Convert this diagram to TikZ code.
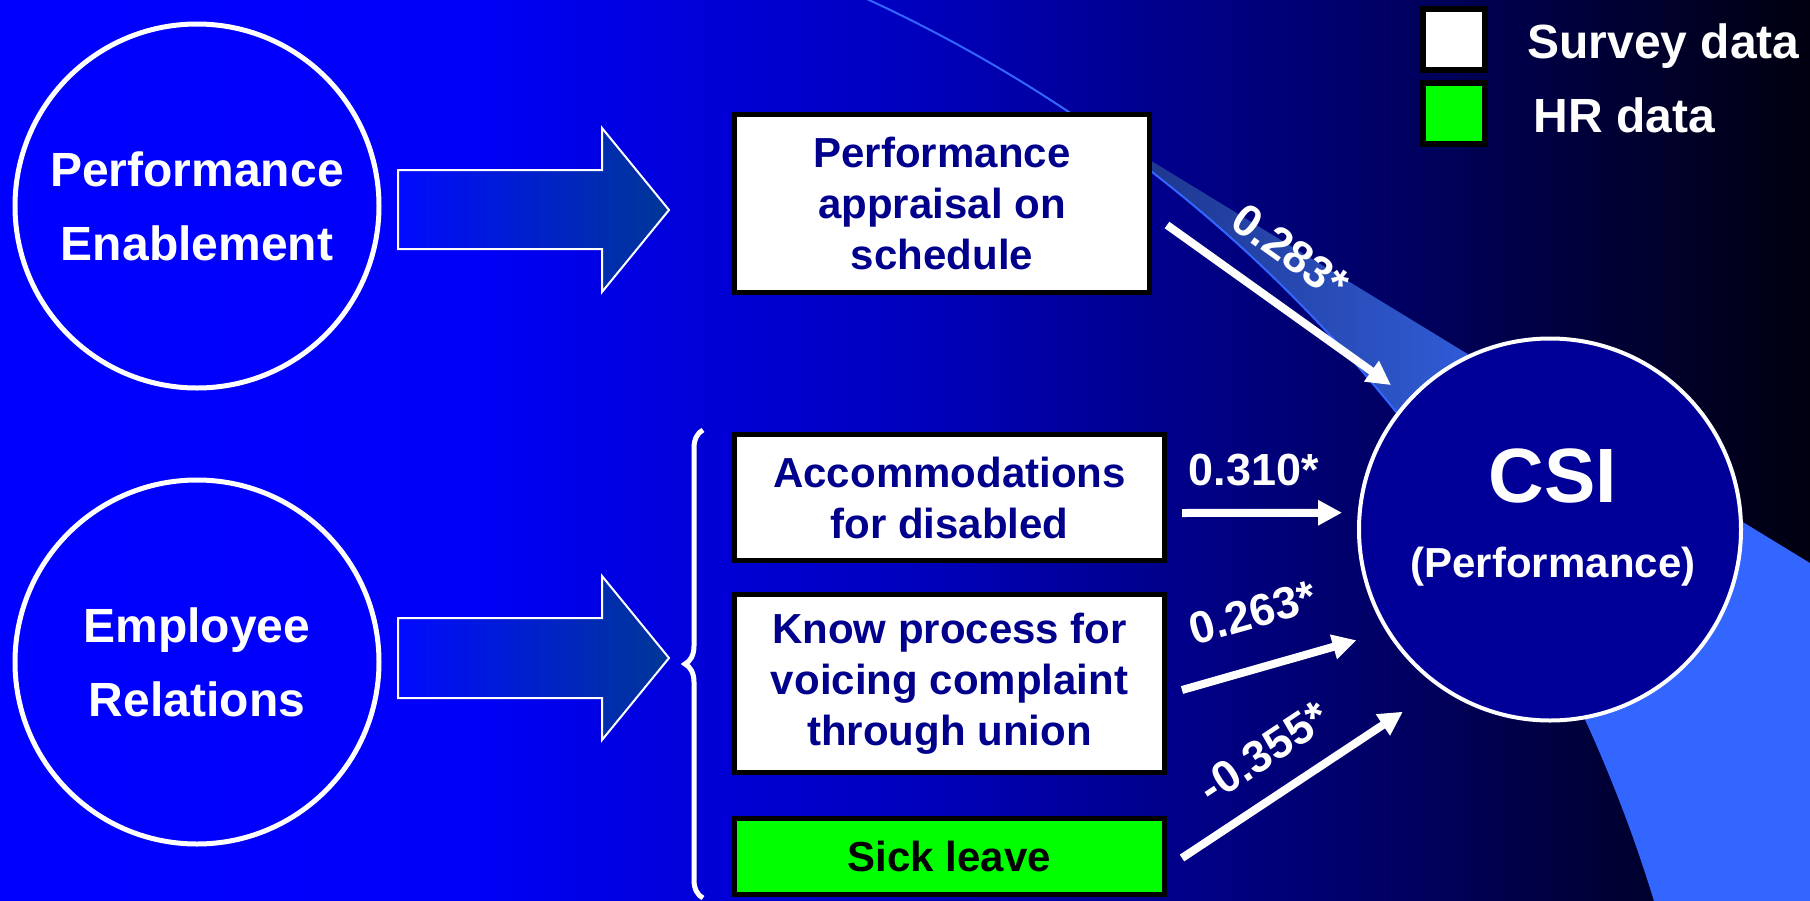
\documentclass[tikz,border=0pt]{standalone}
\usepackage{fontspec}
\setmainfont{Liberation Sans}
\usetikzlibrary{arrows.meta,decorations.pathreplacing}

\definecolor{boxtext}{RGB}{0,0,140}
\definecolor{csifill}{RGB}{0,0,153}
\definecolor{bandblue}{RGB}{51,102,255}
\definecolor{hrgreen}{RGB}{0,255,0}
\definecolor{arrowleft}{RGB}{0,10,255}
\definecolor{arrowright}{RGB}{0,55,150}

\pgfdeclarehorizontalshading{bgshade}{100bp}{rgb(0bp)=(0,0,1); rgb(25bp)=(0,0,1); rgb(37.5bp)=(0,0,0.98); rgb(44.5bp)=(0,0,0.84); rgb(50bp)=(0,0,0.75); rgb(55.5bp)=(0,0,0.59); rgb(63.5bp)=(0,0,0.39); rgb(69bp)=(0,0,0.22); rgb(75bp)=(0,0,0.06); rgb(100bp)=(0,0,0.06)}
\pgfdeclarehorizontalshading{bandshade}{100bp}{rgb(0bp)=(0.08,0.16,0.51); rgb(25bp)=(0.08,0.16,0.51); rgb(32.75bp)=(0.12,0.22,0.57); rgb(48bp)=(0.18,0.34,0.8); rgb(58bp)=(0.2,0.4,1); rgb(100bp)=(0.2,0.4,1)}

\tikzset{
  factor/.style={circle, draw=white, line width=2.5pt, minimum size=182pt, inner sep=0pt,
    align=center, text=white, font=\bfseries\fontsize{24}{37}\selectfont},
  itembox/.style={rectangle, draw=black, line width=2.5pt, fill=white, inner sep=0pt,
    align=center, text=boxtext, font=\bfseries\fontsize{21}{25.5}\selectfont},
  blockarrow/.style={draw=white, line width=1pt, left color=arrowleft, right color=arrowright},
  coef/.style={draw=white, line width=4pt, -{Triangle[length=12pt,width=12pt]}},
  coeflabel/.style={text=white, inner sep=0pt, sloped, font=\bfseries\fontsize{22.5}{27}\selectfont},
  legendbox/.style={rectangle, draw=black, line width=3pt, minimum width=31pt, minimum height=30.5pt, inner sep=0pt},
  legendtext/.style={anchor=base west, inner sep=0pt, text=white, font=\bfseries\fontsize{24}{28}\selectfont}
}

\begin{document}
\begin{tikzpicture}[x=0.5pt,y=-0.5pt]
\useasboundingbox (0,0) rectangle (1810,900);
\clip (0,0) rectangle (1810,900);
% background:
\shade[shading=bgshade] (0,0) rectangle (1810,900);
% swoosh:
\shade[shading=bandshade] (1015.5,78) -- (1900,618) -- (1900,1000) -- (1681.5,1000)
  arc[start angle=-12.99, end angle=-58.7, radius=1464] -- cycle;
\draw[bandblue, line width=1pt] (850.5,-8.4) arc[start angle=-66, end angle=-12.99, radius=1464];
% factors:
\node[factor] (pe) at (197,206) {Performance\\Enablement};
\node[factor] (er) at (197,662) {Employee\\Relations};
\shade[blockarrow] (398,170) -- (602,170) -- (602,128) -- (669,210) -- (602,292) -- (602,249) -- (398,249) -- cycle;
\shade[blockarrow] (398,618) -- (602,618) -- (602,576) -- (669,658) -- (602,740) -- (602,698) -- (398,698) -- cycle;
% items:
\node[itembox, minimum width=207.5pt, minimum height=89pt] (appr) at (942,203.5) {Performance\\appraisal on\\schedule};
\node[itembox, minimum width=215pt, minimum height=63pt] (accom) at (949.5,497.5) {Accommodations\\for disabled};
\node[itembox, minimum width=215pt, minimum height=89pt] (union) at (949.5,683.5) {Know process for\\voicing complaint\\through union};
\node[itembox, minimum width=215pt, minimum height=38pt, fill=hrgreen, text=black] (sick) at (949.5,856.5) {Sick leave};
\draw[white, line width=2.5pt, decorate, decoration={brace, amplitude=9pt}] (703,898) -- (703,430);
% outcome:
\node[circle, draw=white, line width=2pt, fill=csifill, minimum size=191pt, inner sep=0pt] (csi) at (1550,529.5) {};
\node[anchor=base, inner sep=0pt, text=white, font=\bfseries\fontsize{38.5}{44}\selectfont] (csiname) at ([shift={(3,-27.5)}]csi.center) {CSI};
\node[anchor=base, inner sep=0pt, text=white, font=\bfseries\fontsize{21}{25}\selectfont] (csisub) at ([shift={(3,47.5)}]csi.center) {(Performance)};
% coefficients:
\draw[coef, shorten >=11pt] ([shift={(15,21.5)}]appr.east) -- node[coeflabel, above=15pt, pos=0.39] (c283) {0.283*} (csi.137.8);
\draw[coef, shorten >=7.85pt] ([shift={(15,15.5)}]accom.east) -- node[coeflabel, above=11.5pt, pos=0.41] (c310) {0.310*} (csi.175.1);
\draw[coef, shorten >=15.5pt] ([shift={(15,6.5)}]union.east) -- node[coeflabel, above=17.5pt, pos=0.42] (c263) {0.263*} (csi.212.3);
\draw[coef, shorten >=21.85pt] ([shift={(15,1.5)}]sick.east) -- node[coeflabel, above=11.5pt, pos=0.41] (c355) {-0.355*} (csi.235.8);
% legend:
\node[legendbox, fill=white] (svbox) at (1454,39.5) {};
\node[legendbox, fill=hrgreen] (hrbox) at (1454,113.5) {};
\node[legendtext] (svtext) at (1527,58) {Survey data};
\node[legendtext] (hrtext) at (1533,132) {HR data};
\end{tikzpicture}
\end{document}
